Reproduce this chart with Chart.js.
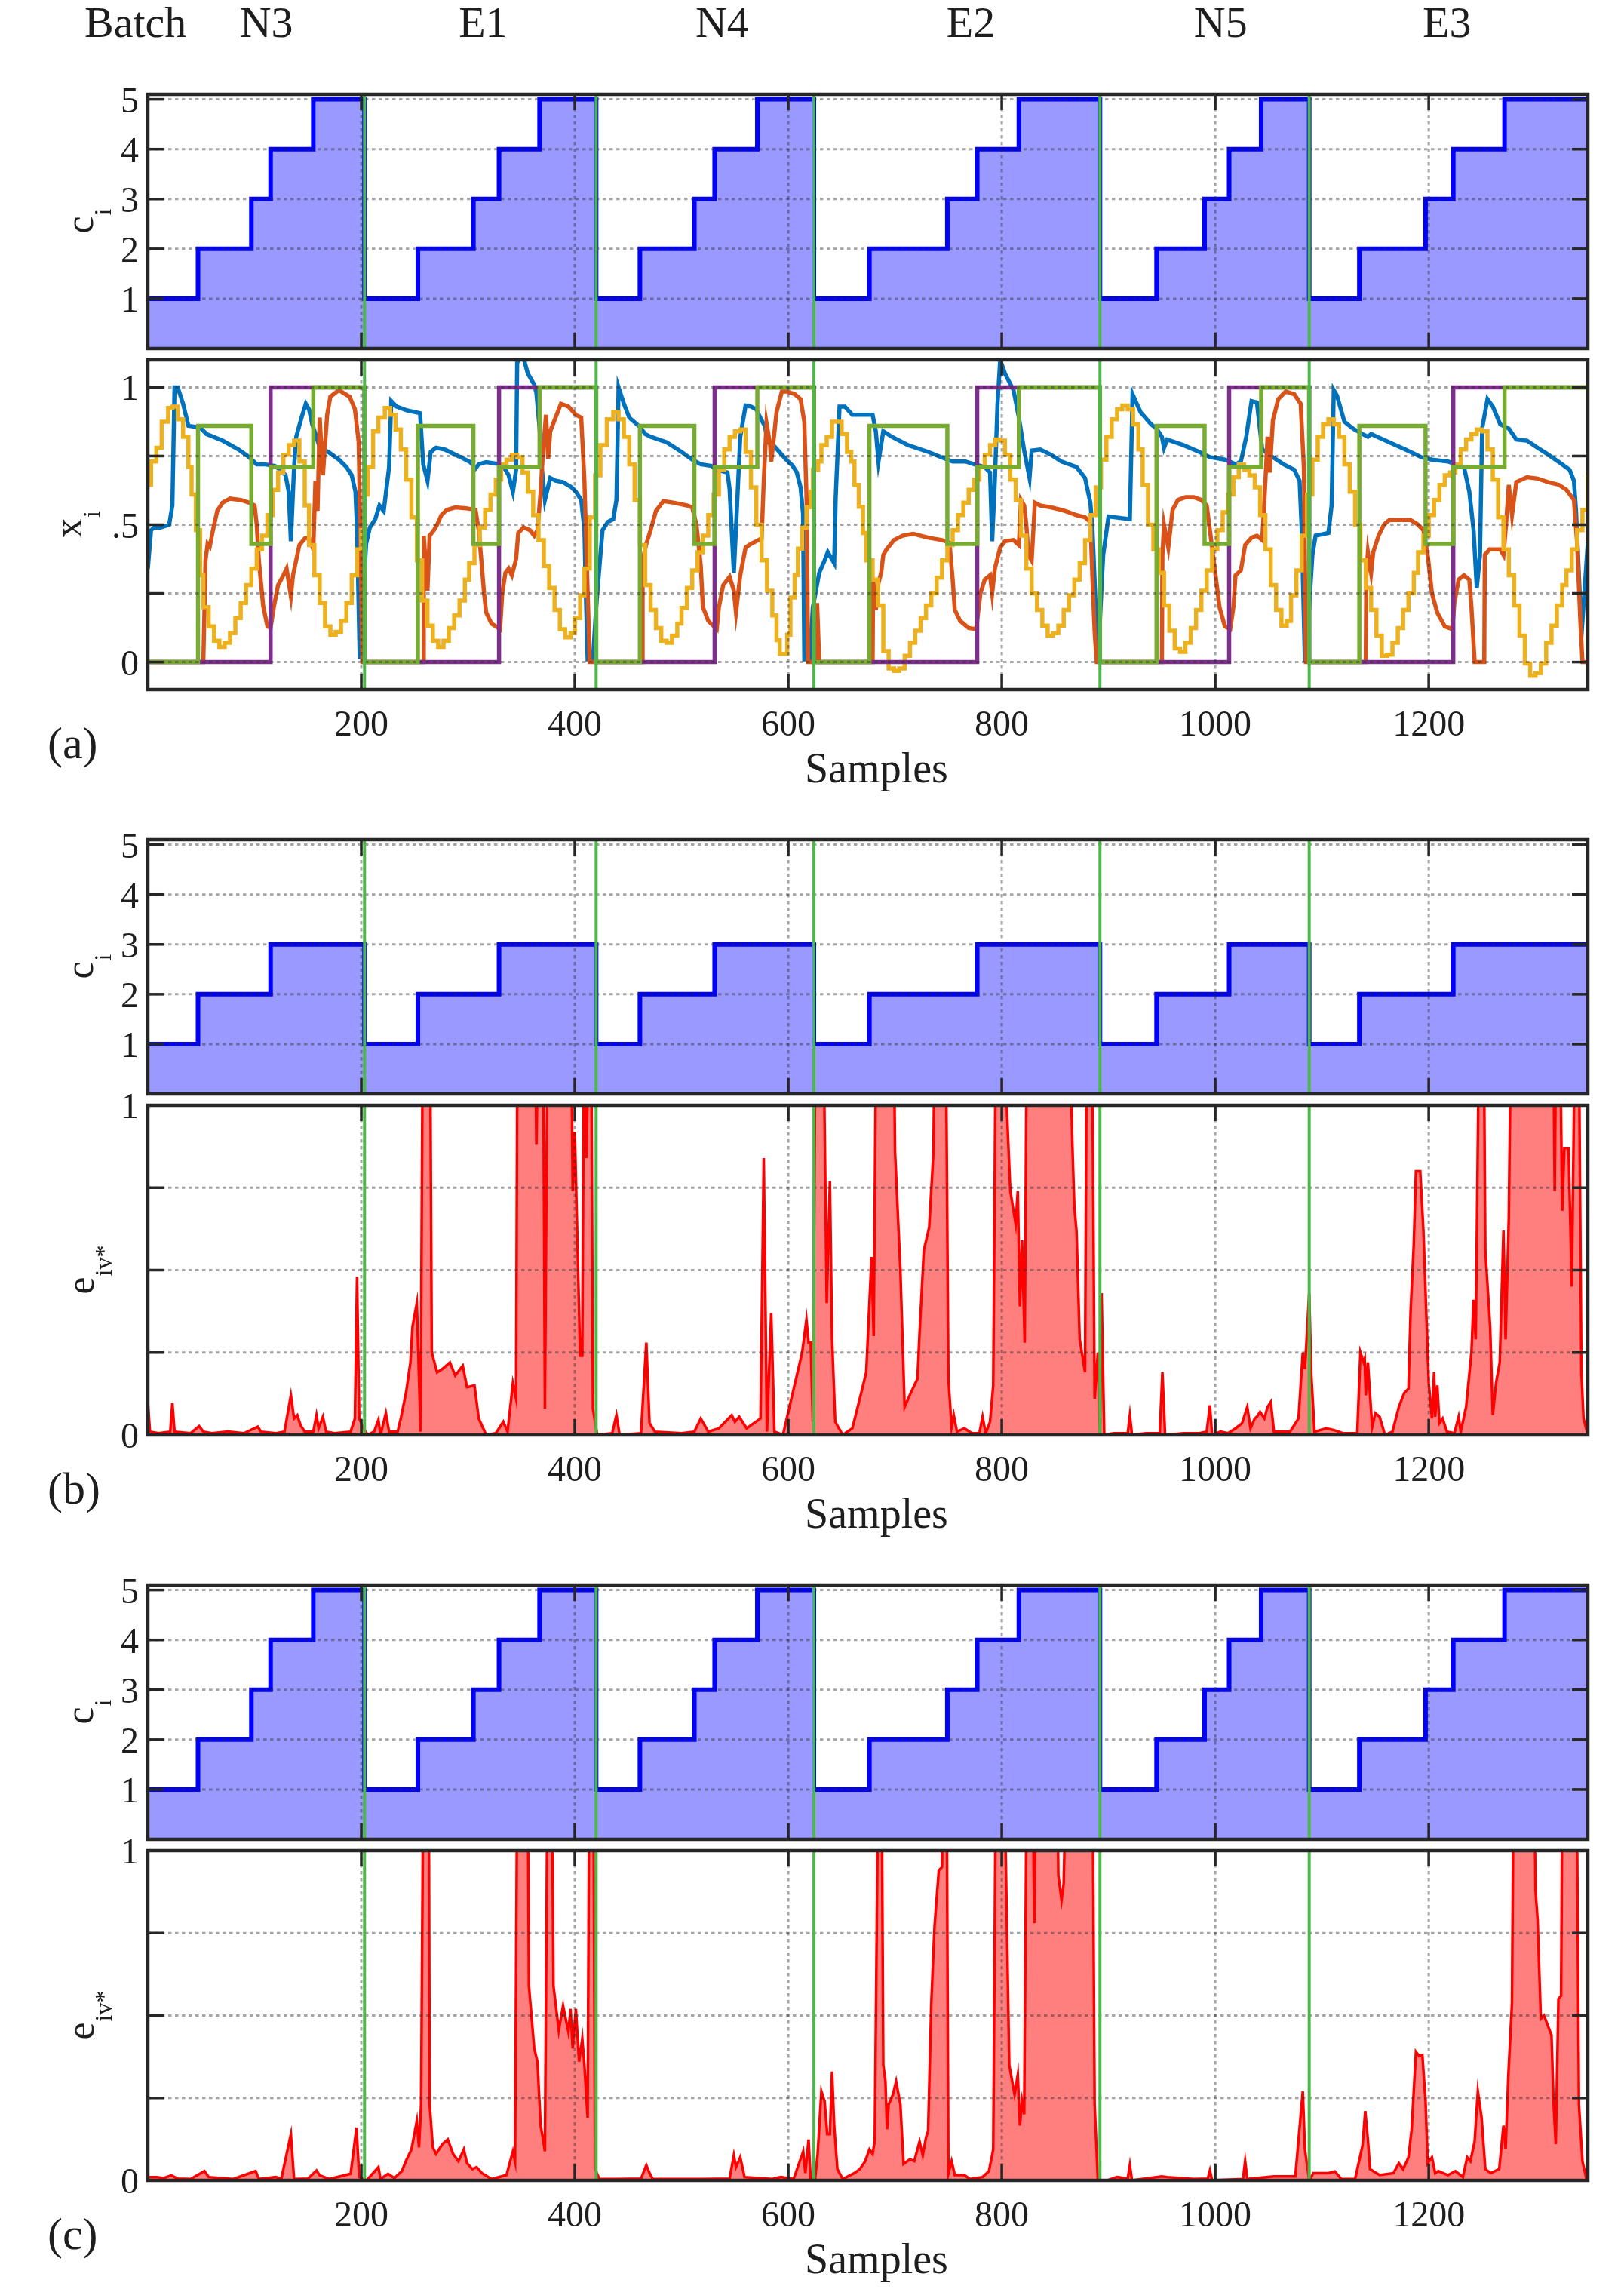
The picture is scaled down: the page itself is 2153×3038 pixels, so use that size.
<!DOCTYPE html>
<html>
<head>
<meta charset="utf-8">
<script src="https://cdn.jsdelivr.net/npm/chart.js@4.4.1/dist/chart.umd.min.js"></script>
<style>
body { margin: 0; background: #fff; }
#page { position: relative; width: 2153px; height: 3038px; background: #fff; }
canvas { position: absolute; left: 0; }
</style>
</head>
<body>
<div id="page"></div>
<script>
// batches and operating points
const batchNames = ['N3', 'E1', 'N4', 'E2', 'N5', 'E3']
const batchStart = [0, 203, 420, 624, 892, 1088]
const batchLabelAt = [111, 314, 538, 771, 1005, 1217]
const lastSample = 1349

// sample where c_i steps up, per batch
const stepsFive = [[47, 97, 115, 155], [253, 305, 329, 367], [461, 512, 531, 571], [676, 749, 777, 816], [945, 990, 1013, 1043], [1135, 1197, 1223, 1271]]
const stepsThree = [[47, 115], [253, 329], [461, 531], [676, 777], [945, 1013], [1135, 1223]]
const ciFive = [1, 2, 3, 4, 5]
const ciThree = [1, 2, 3]
const greenLevels = [0, 0.86, 0.43, 0.71, 1]
const purpleLevels = [0, 0, 0, 1, 1]

// ticks
const xTicks = [200, 400, 600, 800, 1000, 1200]
const ciTicks = [1, 2, 3, 4, 5]
const ciTickLabels = ['1', '2', '3', '4', '5']
const xiTicks = [0, 0.25, 0.5, 0.75, 1]
const xiTickLabels = ['0', '', '.5', '', '1']
const eTicks = [0, 0.25, 0.5, 0.75, 1]
const eTickLabels = ['0', '', '', '', '1']

// x_i curves [sample, value]
const blueX = [[0,0.34],[3,0.48],[6,0.49],[12,0.49],[20,0.5],[23,0.57],[25,1.0],[28,1.0],[33,0.94],[38,0.86],[45,0.856],[50,0.85],[55,0.83],[70,0.806],[85,0.774],[95,0.746],[102,0.72],[109,0.72],[119,0.714],[124,0.70],[129,0.68],[132,0.62],[134,0.44],[137,0.71],[139,0.82],[144,0.89],[148,0.94],[151,0.92],[154,0.865],[158,0.82],[161,0.78],[169,0.765],[179,0.737],[186,0.71],[191,0.68],[194.5,0.62],[196,0.48],[198.5,0.01],[201,0.2],[204.5,0.43],[208,0.49],[213,0.52],[217,0.57],[221,0.55],[226,0.71],[228,0.95],[233,0.93],[243,0.916],[255,0.906],[258,0.72],[262,0.66],[265,0.765],[270,0.78],[278,0.774],[293,0.746],[302,0.728],[307,0.705],[310,0.72],[317,0.728],[330,0.72],[335,0.70],[338,0.68],[342,0.62],[345,0.70],[346,1.09],[351,1.12],[356,1.05],[362,1.01],[364,0.98],[367,0.85],[369,0.71],[372,0.59],[377,0.67],[382,0.66],[389,0.655],[397,0.636],[401,0.62],[406,0.59],[409,0.48],[410,0.3],[412,0.01],[417,0.01],[420,0.2],[424,0.39],[426,0.48],[431,0.51],[436,0.52],[439,0.59],[441,1.0],[446,0.94],[451,0.89],[461,0.856],[466,0.83],[471,0.82],[486,0.8],[500,0.765],[510,0.737],[518,0.72],[528,0.714],[533,0.70],[543,0.69],[545,0.63],[549,0.325],[552,0.57],[555,0.82],[560,0.934],[565,0.93],[570,0.92],[575,0.88],[578,0.86],[581,0.8],[587,0.785],[598,0.737],[604,0.715],[608,0.69],[611.5,0.636],[613.8,0.54],[615,0.01],[620,0.01],[623,0.2],[629,0.325],[634,0.37],[637,0.4],[643,0.36],[644.4,0.6],[648,0.93],[653,0.93],[660,0.9],[669,0.9],[679,0.9],[682,0.84],[684.5,0.73],[689,0.84],[697,0.82],[712,0.79],[731,0.765],[749,0.737],[754,0.73],[766,0.73],[774,0.72],[784,0.71],[789,0.69],[791,0.44],[793.5,0.66],[796,0.94],[798.5,1.1],[803,1.05],[811,0.99],[816,0.89],[821,0.77],[826,0.67],[828,0.77],[836,0.774],[846,0.755],[856,0.73],[870,0.71],[878,0.67],[883,0.58],[885,0.48],[888,0.2],[890,0.0],[895,0.39],[900,0.53],[920,0.52],[922.5,0.975],[930,0.91],[940,0.865],[945,0.85],[950,0.82],[952,0.78],[955,0.81],[970,0.79],[985,0.765],[995,0.746],[1009,0.737],[1019,0.72],[1024,0.73],[1029,0.82],[1034,0.95],[1039,0.945],[1044,0.774],[1054,0.746],[1064,0.72],[1074,0.70],[1079,0.66],[1081,0.48],[1084,0.0],[1088,0.2],[1091,0.39],[1094,0.46],[1106,0.47],[1109,0.57],[1111,0.99],[1114,0.97],[1121,0.875],[1129,0.85],[1138,0.83],[1143,0.82],[1146,0.83],[1163,0.8],[1178,0.774],[1193,0.746],[1203,0.737],[1218,0.73],[1225,0.72],[1233,0.71],[1238,0.62],[1242,0.48],[1245,0.27],[1248,0.39],[1250,0.85],[1255,0.957],[1260,0.93],[1267,0.865],[1275,0.85],[1282,0.81],[1292,0.806],[1302,0.78],[1312,0.755],[1322,0.728],[1332,0.70],[1336,0.66],[1338,0.55],[1342,0.2],[1344,0.15],[1349,0.435]]

const orangeX = [[0,0],[52,0],[54,0.37],[56,0.43],[58,0.42],[61,0.48],[65,0.55],[70,0.58],[77,0.595],[87,0.59],[95,0.58],[100,0.57],[102,0.5],[104,0.37],[108,0.206],[112,0.13],[115,0.124],[118,0.2],[122,0.28],[127,0.316],[130,0.34],[134,0.24],[136,0.316],[142,0.426],[147,0.45],[151,0.453],[155,0.41],[157,0.66],[159,0.55],[161,0.89],[164,0.68],[168,0.9],[171,0.966],[179,0.99],[189,0.966],[194,0.92],[197.5,0.8],[199,0.48],[201,0],[258,0],[258.5,0.46],[262,0.26],[264,0.46],[268,0.48],[271,0.5],[275,0.535],[280,0.554],[288,0.563],[298,0.56],[307,0.554],[310,0.48],[312,0.39],[315,0.25],[317,0.18],[322,0.14],[330,0.12],[332,0.25],[335,0.325],[338,0.34],[341,0.316],[345,0.375],[347,0.47],[352,0.49],[358,0.48],[362,0.46],[365,0.48],[368,0.62],[370,0.755],[373,0.9],[375,0.74],[377,0.84],[381,0.88],[387,0.94],[394,0.93],[401,0.9],[406,0.89],[409,0.66],[411,0.39],[414,0],[463,0],[463.5,0.37],[467,0.43],[471,0.48],[476,0.55],[483,0.586],[493,0.58],[505,0.57],[510,0.563],[514,0.5],[518,0.35],[520,0.2],[525,0.15],[533,0.12],[535,0.2],[539,0.28],[545,0.31],[549,0.26],[551,0.18],[555,0.316],[560,0.417],[565,0.43],[570,0.44],[575,0.45],[577,0.66],[579.6,0.87],[583,0.79],[584,0.73],[586,0.8],[589,0.91],[594,0.985],[599,0.985],[606,0.975],[611.5,0.957],[615,0.875],[617.3,0.564],[618.5,0],[625,0],[627,0.215],[629,0],[679,0],[679.5,0.3],[682,0.19],[684,0.28],[687,0.325],[689,0.39],[692,0.41],[699,0.444],[707,0.46],[717,0.467],[731,0.453],[744,0.444],[751,0.435],[754,0.3],[756,0.19],[761,0.15],[769,0.124],[776,0.12],[780,0.25],[784,0.3],[789,0.316],[791,0.25],[793.5,0.34],[798.5,0.417],[803,0.44],[811,0.444],[816,0.426],[818,0.59],[821,0.57],[823,0.5],[825,0.39],[828,0.37],[831,0.58],[836,0.57],[846,0.563],[856,0.554],[863,0.545],[870,0.535],[878,0.527],[883,0.51],[885,0.3],[887,0.11],[889,0],[950,0],[950.5,0.39],[952,0.5],[956,0.417],[960,0.554],[965,0.59],[972,0.6],[980,0.6],[987,0.59],[992,0.57],[995,0.48],[1000,0.325],[1004,0.2],[1009,0.13],[1014,0.12],[1017,0.2],[1019,0.316],[1024,0.334],[1028,0.426],[1034,0.453],[1039,0.46],[1044,0.444],[1047,0.66],[1049,0.82],[1051,0.69],[1054,0.88],[1059,0.957],[1066,0.985],[1074,0.975],[1080,0.94],[1083,0.71],[1085,0],[1141,0],[1141.5,0.316],[1143,0.4],[1146,0.325],[1148,0.4],[1153,0.46],[1158,0.5],[1163,0.517],[1173,0.517],[1183,0.517],[1190,0.5],[1195,0.48],[1199,0.39],[1203,0.25],[1208,0.18],[1215,0.13],[1222,0.12],[1224,0.215],[1228,0.3],[1233,0.316],[1238,0.3],[1240,0.2],[1243,0],[1252,0],[1252.5,0.39],[1257,0.41],[1267,0.41],[1270,0.39],[1272,0.48],[1275,0.645],[1278,0.535],[1282,0.655],[1292,0.673],[1302,0.668],[1312,0.655],[1322,0.645],[1329,0.627],[1336,0.59],[1339,0.435],[1342,0.15],[1344,0],[1349,0]]

const yellowX = [[0,0.645],[3,0.73],[8,0.78],[13,0.875],[19,0.925],[23,0.93],[28,0.884],[33,0.82],[38,0.71],[41,0.61],[45,0.48],[49,0.316],[52,0.2],[57,0.13],[62,0.078],[67,0.055],[72,0.07],[77,0.105],[82,0.16],[87,0.215],[92,0.28],[97,0.34],[102,0.41],[107,0.46],[112,0.535],[117,0.627],[122,0.69],[127,0.755],[132,0.79],[137,0.806],[142,0.73],[147,0.57],[151,0.426],[156,0.316],[161,0.215],[166,0.13],[171,0.1],[176,0.11],[181,0.15],[186,0.215],[191,0.316],[196,0.41],[200,0.48],[203,0.61],[206,0.71],[211,0.84],[216,0.89],[222,0.925],[227,0.9],[232,0.847],[237,0.774],[242,0.664],[247,0.527],[252,0.37],[257,0.224],[262,0.133],[267,0.078],[272,0.055],[277,0.078],[282,0.124],[287,0.17],[292,0.224],[297,0.3],[301,0.36],[306,0.426],[311,0.49],[316,0.554],[321,0.61],[326,0.664],[331,0.72],[336,0.737],[341,0.755],[346,0.746],[351,0.69],[356,0.62],[361,0.535],[366,0.444],[371,0.35],[376,0.27],[381,0.19],[386,0.12],[391,0.09],[396,0.105],[400,0.16],[405,0.243],[409,0.34],[414,0.527],[419,0.68],[424,0.79],[430,0.884],[436,0.91],[441,0.884],[446,0.82],[451,0.72],[456,0.59],[461,0.426],[466,0.28],[471,0.19],[476,0.124],[481,0.078],[486,0.07],[491,0.096],[496,0.14],[500,0.197],[505,0.27],[510,0.334],[515,0.4],[520,0.46],[525,0.535],[530,0.61],[535,0.7],[540,0.774],[545,0.82],[550,0.84],[555,0.847],[560,0.765],[565,0.636],[570,0.5],[575,0.37],[580,0.26],[585,0.17],[589,0.08],[592,0.03],[596,0.03],[599,0.1],[602,0.235],[606,0.317],[609,0.413],[613,0.49],[617,0.564],[621,0.62],[623,0.7],[628,0.73],[631,0.79],[636,0.82],[641,0.875],[646,0.875],[650,0.83],[655,0.765],[659,0.73],[662,0.645],[666,0.565],[670,0.47],[673,0.37],[679,0.3],[684,0.206],[689,0.04],[694,-0.023],[699,-0.032],[704,-0.023],[709,0.023],[714,0.07],[719,0.114],[724,0.16],[729,0.206],[734,0.25],[739,0.307],[744,0.37],[749,0.426],[754,0.48],[759,0.535],[764,0.58],[769,0.627],[774,0.664],[779,0.71],[784,0.755],[789,0.79],[794,0.81],[798,0.806],[803,0.755],[808,0.664],[813,0.59],[818,0.46],[823,0.34],[828,0.25],[833,0.19],[838,0.133],[843,0.096],[848,0.105],[853,0.133],[858,0.19],[863,0.243],[868,0.3],[873,0.36],[878,0.444],[883,0.535],[888,0.636],[893,0.737],[898,0.82],[903,0.884],[908,0.92],[913,0.934],[918,0.92],[923,0.865],[928,0.774],[932,0.645],[937,0.5],[942,0.41],[947,0.325],[952,0.206],[957,0.114],[962,0.05],[967,0.037],[972,0.07],[977,0.124],[982,0.19],[987,0.26],[992,0.334],[997,0.41],[1002,0.48],[1007,0.545],[1012,0.61],[1017,0.673],[1022,0.72],[1027,0.7],[1032,0.68],[1037,0.636],[1042,0.535],[1047,0.41],[1052,0.28],[1057,0.19],[1062,0.133],[1067,0.15],[1071,0.243],[1076,0.334],[1081,0.46],[1086,0.61],[1091,0.737],[1096,0.82],[1101,0.865],[1106,0.884],[1111,0.865],[1116,0.82],[1121,0.72],[1126,0.62],[1131,0.5],[1136,0.37],[1141,0.27],[1146,0.19],[1151,0.096],[1156,0.023],[1161,0.027],[1166,0.07],[1171,0.124],[1176,0.19],[1181,0.25],[1186,0.325],[1190,0.4],[1195,0.46],[1200,0.535],[1205,0.59],[1210,0.645],[1215,0.68],[1220,0.69],[1225,0.72],[1230,0.774],[1235,0.81],[1240,0.83],[1245,0.847],[1250,0.84],[1255,0.774],[1260,0.664],[1265,0.527],[1270,0.41],[1275,0.316],[1280,0.206],[1285,0.096],[1290,-0.005],[1295,-0.05],[1300,-0.04],[1305,-0.005],[1310,0.07],[1315,0.133],[1320,0.206],[1325,0.28],[1329,0.334],[1334,0.41],[1339,0.48],[1344,0.554],[1349,0.69]]

// e_iv* curves, panel (b) and panel (c)
const errB = [[0,0.1],[2,0.01],[10,0.005],[21,0.01],[23,0.097],[25,0.01],[40,0.005],[48,0.027],[52,0.01],[60,0.005],[75,0.01],[90,0.005],[103,0.025],[106,0.01],[120,0.005],[128,0.01],[134,0.12],[137,0.05],[140,0.06],[143,0.03],[147,0.01],[155,0.01],[158,0.06],[160,0.02],[164,0.055],[167,0.01],[175,0.005],[190,0.01],[194,0.05],[196,0.48],[198,0.05],[202,0.02],[206,0.0],[212,0.01],[216,0.046],[218,0.0],[223,0.066],[226,0.01],[234,0.01],[237,0.05],[242,0.13],[246,0.22],[248,0.33],[252,0.4],[255.5,0.01],[258,1.5],[264,1.5],[266,0.25],[271,0.19],[276,0.2],[283,0.22],[288,0.18],[295,0.21],[299,0.145],[306,0.15],[310,0.05],[317,0.0],[326,0.005],[333,0.04],[337,0.01],[342,0.157],[345,0.11],[346.5,1.5],[362,1.5],[364,0.88],[367,1.5],[370,1.5],[372,0.08],[375,1.5],[396,1.5],[398,0.74],[400,0.92],[405,0.24],[407,0.24],[409,1.5],[411,0.84],[414,1.5],[415,1.5],[417,0.08],[421,0.0],[435,0.005],[439,0.06],[442,0.0],[462,0.005],[467,0.28],[470,0.036],[475,0.01],[500,0.005],[512,0.01],[518,0.05],[525,0.01],[535,0.02],[547,0.06],[550,0.04],[554,0.055],[561,0.02],[574,0.05],[577,0.84],[580,0.01],[584,0.37],[587,0.01],[595,0.0],[613,0.25],[617,0.35],[619,0.28],[621,0.28],[623,0.04],[626,1.5],[632,1.5],[636,0.4],[639,0.77],[641,0.29],[644,0.04],[651,0.0],[660,0.02],[667,0.11],[673,0.19],[678,0.54],[680,0.3],[683,1.5],[698,1.5],[700,0.86],[705,0.5],[709,0.085],[713,0.115],[718,0.15],[721,0.17],[723,0.31],[727,0.56],[732,0.63],[736,0.86],[738,1.5],[747,1.5],[750,0.17],[753,0.024],[755,0.06],[758,0.01],[765,0.02],[772,0.005],[779,0.005],[782,0.055],[785,0.005],[789,0.04],[792,0.15],[795,1.5],[799,1.5],[802,1.2],[808,0.74],[813,0.64],[815,0.74],[817,0.39],[819,0.59],[821.5,0.28],[824,1.5],[862,1.5],[866,0.895],[868,0.69],[870,0.62],[873,0.29],[876,0.23],[878,0.19],[880,1.5],[884,1.5],[887,0.11],[890,0.25],[892,0.0],[893.5,0.43],[896,0.0],[905,0.005],[918,0.005],[920,0.06],[922,0.0],[935,0.005],[948,0.005],[950.5,0.19],[953,0.0],[970,0.005],[985,0.005],[992,0.01],[995,0.09],[997,0.0],[1005,0.01],[1012,0.005],[1019,0.02],[1025,0.035],[1030,0.085],[1033,0.02],[1037,0.05],[1039,0.055],[1042,0.07],[1046,0.05],[1049,0.085],[1052,0.1],[1055,0.01],[1070,0.01],[1078,0.05],[1082,0.25],[1084,0.2],[1088,0.43],[1090,0.18],[1093,0.01],[1104,0.02],[1111,0.015],[1120,0.005],[1133,0.005],[1136,0.25],[1139,0.22],[1140,0.23],[1141,0.12],[1143,0.22],[1147,0.024],[1150,0.066],[1154,0.055],[1159,0.0],[1166,0.01],[1172,0.085],[1177,0.127],[1181,0.14],[1183,0.375],[1186,0.58],[1188,0.8],[1192,0.8],[1195,0.62],[1198,0.34],[1200,0.157],[1203,0.05],[1205,0.19],[1206,0.055],[1208,0.15],[1210,0.036],[1213,0.05],[1217,0.01],[1224,0.005],[1228,0.055],[1230,0.01],[1235,0.085],[1240,0.25],[1242,0.41],[1244,0.29],[1248,1.5],[1251,1.5],[1253,0.56],[1257.5,0.33],[1260,0.06],[1263,0.157],[1266.5,0.22],[1270,0.62],[1272,0.29],[1275,0.66],[1278,1.5],[1316,1.5],[1318,0.74],[1320,1.5],[1322,1.5],[1325,0.68],[1327,0.87],[1331,0.87],[1334,0.45],[1338,1.5],[1340,1.5],[1343,0.19],[1345,0.05],[1349,0.0]]

const errC = [[0,0.01],[8,0.01],[15,0.007],[22,0.015],[28,0.005],[40,0.004],[53,0.028],[57,0.01],[80,0.004],[101,0.028],[104,0.004],[120,0.01],[125,0.004],[134,0.14],[137,0.004],[150,0.005],[158,0.03],[161,0.015],[165,0.01],[170,0.004],[190,0.02],[195.5,0.16],[198,0.01],[205,0.0],[216,0.04],[218,0.004],[225,0.02],[231,0.007],[238,0.028],[242,0.06],[247,0.094],[252,0.18],[254,0.1],[256,0.23],[258.6,1.5],[263,1.5],[264,0.23],[267,0.1],[270,0.08],[276,0.11],[281,0.124],[286,0.08],[291,0.058],[296,0.094],[299,0.052],[304,0.034],[308,0.04],[313,0.022],[322,0.004],[336,0.016],[342,0.088],[344,0.058],[346.5,1.5],[355.6,1.5],[357,0.59],[362,0.4],[365,0.36],[368,0.166],[370,0.13],[372,0.088],[375,1.5],[378,1.5],[380,0.59],[385,0.455],[389,0.53],[394,0.45],[396,0.52],[398,0.4],[401,0.52],[404,0.36],[407,0.43],[409,0.35],[412,0.19],[414,1.5],[417,1.5],[419,0.034],[423,0.004],[440,0.004],[462,0.005],[467,0.046],[470,0.022],[473,0.004],[520,0.004],[545,0.005],[549,0.076],[551,0.04],[555,0.07],[559,0.01],[585,0.004],[593,0.01],[605,0.004],[614,0.088],[616,0.022],[619,0.124],[621,0.0],[625,0.0],[627.5,0.08],[631,0.27],[634,0.24],[636.5,0.14],[639,0.14],[641,0.33],[643,0.166],[646,0.034],[651,0.004],[662,0.022],[667,0.034],[672,0.058],[676,0.094],[679,0.08],[681,0.12],[685,1.5],[687,1.5],[689,0.35],[691,0.3],[692.5,0.155],[694,0.23],[698,0.26],[701,0.3],[705,0.23],[708,0.05],[714,0.064],[718,0.058],[723,0.118],[726,0.076],[729,0.13],[731,0.15],[734,0.54],[737,0.77],[741,0.94],[744,0.95],[746,1.5],[748,1.5],[750,0.02],[753,0.058],[756,0.016],[765,0.016],[770,0.004],[782,0.01],[788,0.028],[792,0.094],[795,1.5],[801,1.5],[807,0.35],[812,0.26],[815,0.32],[817,0.166],[819,0.24],[821,0.2],[824,1.5],[828,1.5],[830.5,0.78],[833,1.5],[851,1.5],[853,0.925],[856,0.85],[858,0.9],[862,1.5],[884.5,1.5],[887,0.23],[890,0.0],[899,0.0],[908,0.01],[918,0.005],[920,0.046],[922,0.0],[950,0.012],[955,0.01],[980,0.004],[993,0.005],[995,0.03],[997,0.0],[1026,0.004],[1028,0.058],[1030,0.004],[1055,0.012],[1070,0.012],[1075,0.012],[1082,0.27],[1084,0.094],[1088,0.0],[1092,0.022],[1106,0.022],[1112,0.027],[1118,0.004],[1131,0.004],[1138,0.106],[1140.5,0.21],[1143,0.124],[1145,0.034],[1154,0.016],[1167,0.022],[1172,0.052],[1176,0.034],[1181,0.07],[1184,0.155],[1188,0.39],[1191,0.377],[1194,0.38],[1197,0.24],[1199,0.052],[1203,0.07],[1206,0.022],[1209,0.028],[1218,0.016],[1225,0.028],[1232,0.01],[1236,0.07],[1239,0.058],[1243,0.118],[1246,0.27],[1249.5,0.19],[1253,0.034],[1258,0.022],[1262,0.028],[1266,0.034],[1270,0.166],[1272,0.094],[1274.6,0.32],[1278,0.54],[1280,1.5],[1298,1.5],[1300,0.88],[1302,0.79],[1305,0.49],[1308,0.5],[1311.5,0.47],[1315,0.44],[1317,0.23],[1319,0.11],[1321.5,0.55],[1324,0.56],[1325.7,1.5],[1338,1.5],[1340.7,0.23],[1344,0.058],[1348,0.0],[1349,0.0]]


// page layout
const W = 2153
const AREA_L = 196
const AREA_R = 2105
const SHIFT = 988
const SERIF = 'Liberation Serif'
const INK = '#1e1e1e'

let stepSeries = (steps, levels) => {
    let pts = []
    batchStart.forEach((s, i) => {
        pts.push([s, levels[0]])
        steps[i].forEach((t, j) => pts.push([t, levels[j + 1]]))
    })
    pts.push([lastSample, levels[levels.length - 1]])
    return pts
}

let font = (size) => size + 'px "' + SERIF + '"'

// MATLAB-like box: dotted grid over the data, inward ticks, batch boundaries, texts
let framePlugin = (p) => ({
    id: 'frame',
    afterDatasetsDraw: (chart) => {
        let ctx = chart.ctx
        let a = chart.chartArea
        let x = chart.scales.x
        let y = chart.scales.y
        ctx.save()
        ctx.beginPath()
        ctx.rect(a.left, a.top, a.right - a.left, a.bottom - a.top)
        ctx.clip()
        ctx.strokeStyle = 'rgba(40,40,40,0.42)'
        ctx.lineWidth = 3
        ctx.setLineDash([4.5, 4.5])
        p.yTicks.forEach(v => {
            let py = y.getPixelForValue(v)
            ctx.beginPath(); ctx.moveTo(a.left, py); ctx.lineTo(a.right, py); ctx.stroke()
        })
        xTicks.forEach(v => {
            let px = x.getPixelForValue(v)
            ctx.beginPath(); ctx.moveTo(px, a.top); ctx.lineTo(px, a.bottom); ctx.stroke()
        })
        ctx.setLineDash([])
        ctx.strokeStyle = '#4db84a'
        ctx.lineWidth = 4
        batchStart.slice(1).forEach(v => {
            let px = x.getPixelForValue(v)
            ctx.beginPath(); ctx.moveTo(px, a.top); ctx.lineTo(px, a.bottom); ctx.stroke()
        })
        ctx.strokeStyle = '#262626'
        ctx.lineWidth = 3.5
        let tl = 21
        p.yTicks.forEach(v => {
            let py = y.getPixelForValue(v)
            ctx.beginPath(); ctx.moveTo(a.left, py); ctx.lineTo(a.left + tl, py); ctx.stroke()
            ctx.beginPath(); ctx.moveTo(a.right, py); ctx.lineTo(a.right - tl, py); ctx.stroke()
        })
        xTicks.forEach(v => {
            let px = x.getPixelForValue(v)
            ctx.beginPath(); ctx.moveTo(px, a.bottom); ctx.lineTo(px, a.bottom - tl); ctx.stroke()
            ctx.beginPath(); ctx.moveTo(px, a.top); ctx.lineTo(px, a.top + tl); ctx.stroke()
        })
        ctx.restore()
        ctx.save()
        ctx.strokeStyle = '#262626'
        ctx.lineWidth = 4.5
        ctx.strokeRect(a.left, a.top, a.right - a.left, a.bottom - a.top)
        ctx.restore()
    },
    afterDraw: (chart) => {
        let ctx = chart.ctx
        let a = chart.chartArea
        let x = chart.scales.x
        let y = chart.scales.y
        ctx.save()
        ctx.fillStyle = INK
        ctx.textBaseline = 'alphabetic'
        // tick labels from the scales
        ctx.font = font(48)
        ctx.textAlign = 'right'
        p.yTicks.forEach((v, i) => {
            if (p.yLabels[i]) ctx.fillText(p.yLabels[i], a.left - 12, y.getPixelForValue(v) + 17)
        })
        if (p.labeled) {
            ctx.textAlign = 'center'
            xTicks.forEach(v => ctx.fillText(String(v), x.getPixelForValue(v), a.bottom + 61))
        }
        p.texts.forEach(t => {
            ctx.font = font(t.size)
            ctx.textAlign = t.align || 'left'
            let tx = t.at !== undefined ? x.getPixelForValue(t.at) : t.left
            ctx.fillText(t.text, tx, t.base - p.canvasTop)
        })
        let t = p.title
        ctx.translate(t.left, t.mid - p.canvasTop)
        ctx.rotate(-Math.PI / 2)
        ctx.textAlign = 'left'
        ctx.font = font(52)
        let w1 = ctx.measureText(t.main).width
        ctx.font = font(32)
        let w2 = ctx.measureText(t.sub).width
        let start = -(w1 + w2) / 2
        ctx.font = font(52)
        ctx.fillText(t.main, start, 0)
        ctx.font = font(32)
        ctx.fillText(t.sub, start + w1 + 1, 24)
        ctx.restore()
    }
})

let makePanel = (p) => {
    let canvas = document.createElement('canvas')
    let h = p.canvasBottom - p.canvasTop
    canvas.width = W
    canvas.height = h
    canvas.style.top = p.canvasTop + 'px'
    canvas.style.width = W + 'px'
    canvas.style.height = h + 'px'
    document.getElementById('page').appendChild(canvas)
    new Chart(canvas.getContext('2d'), {
        type: 'line',
        data: { datasets: p.datasets },
        plugins: [framePlugin(p)],
        options: {
            responsive: false,
            maintainAspectRatio: false,
            animation: false,
            devicePixelRatio: 1,
            events: [],
            layout: {
                autoPadding: false,
                padding: {
                    left: AREA_L,
                    right: W - AREA_R,
                    top: p.top - p.canvasTop,
                    bottom: p.canvasBottom - p.bottom
                }
            },
            elements: { point: { radius: 0 }, line: { tension: 0 } },
            plugins: { legend: { display: false }, tooltip: { enabled: false } },
            scales: {
                x: { type: 'linear', min: 0, max: lastSample, display: false },
                y: { type: 'linear', min: p.yMin, max: p.yMax, display: false }
            }
        }
    })
}

let stepDataset = (steps, levels) => ({
    data: stepSeries(steps, levels),
    stepped: true,
    borderColor: '#0000ff',
    borderWidth: 6,
    backgroundColor: '#9999ff',
    fill: 'origin',
    clip: 0
})

let lineDataset = (data, color, width, stepped) => ({
    data: data,
    stepped: !!stepped,
    borderColor: color,
    borderWidth: width,
    fill: false,
    clip: 0
})

let errDataset = (data) => ({
    data: data,
    borderColor: '#ff0000',
    borderWidth: 3.5,
    backgroundColor: 'rgba(255,0,0,0.5)',
    fill: 'origin',
    clip: 0
})

let groups = [
    { mark: '(a)', steps: stepsFive, levels: ciFive },
    { mark: '(b)', steps: stepsThree, levels: ciThree },
    { mark: '(c)', steps: stepsFive, levels: ciFive }
]

groups.forEach((g, k) => {
    let o = k * SHIFT
    let topTexts = []
    if (k == 0) {
        topTexts.push({ text: 'Batch', left: 112, base: 49, size: 58 })
        batchNames.forEach((n, i) => topTexts.push({ text: n, at: batchLabelAt[i], base: 49, size: 58, align: 'center' }))
    }
    makePanel({
        canvasTop: k == 0 ? 0 : 125 + o - 60,
        canvasBottom: 462 + o + 7,
        top: 125 + o,
        bottom: 462 + o,
        labeled: false,
        datasets: [stepDataset(g.steps, g.levels)],
        yMin: 0, yMax: 5.1,
        yTicks: ciTicks, yLabels: ciTickLabels,
        texts: topTexts,
        title: { main: 'c', sub: 'i', left: 123, mid: 293.5 + o }
    })

    let bottomSets
    let bottomTitle
    if (k == 0) {
        bottomSets = [
            lineDataset(stepSeries(stepsFive, greenLevels), '#77ac30', 5.5, true),
            lineDataset(stepSeries(stepsFive, purpleLevels), '#7e2f8e', 5.5, true),
            lineDataset(yellowX, '#edb120', 5.5, true),
            lineDataset(orangeX, '#d95319', 5.5),
            lineDataset(blueX, '#0072bd', 5.5)
        ]
        bottomTitle = { main: 'x', sub: 'i', left: 108, mid: 695.5 }
    } else {
        bottomSets = [errDataset(k == 1 ? errB : errC)]
        bottomTitle = { main: 'e', sub: 'iv*', left: 124, mid: 695.5 + o }
    }
    // transparent canvas reaching a little above the box so the top label is not cut
    makePanel({
        canvasTop: 477 + o - 45,
        canvasBottom: 914 + o + 160,
        top: 477 + o,
        bottom: 914 + o,
        labeled: true,
        datasets: bottomSets,
        yMin: k == 0 ? -0.1 : 0,
        yMax: k == 0 ? 1.1 : 1,
        yTicks: k == 0 ? xiTicks : eTicks,
        yLabels: k == 0 ? xiTickLabels : eTickLabels,
        texts: [
            { text: 'Samples', left: 1162, base: 1037 + o, size: 56, align: 'center' },
            { text: g.mark, left: 63, base: 1005 + o, size: 60 }
        ],
        title: bottomTitle
    })
})
</script>
</body>
</html>
